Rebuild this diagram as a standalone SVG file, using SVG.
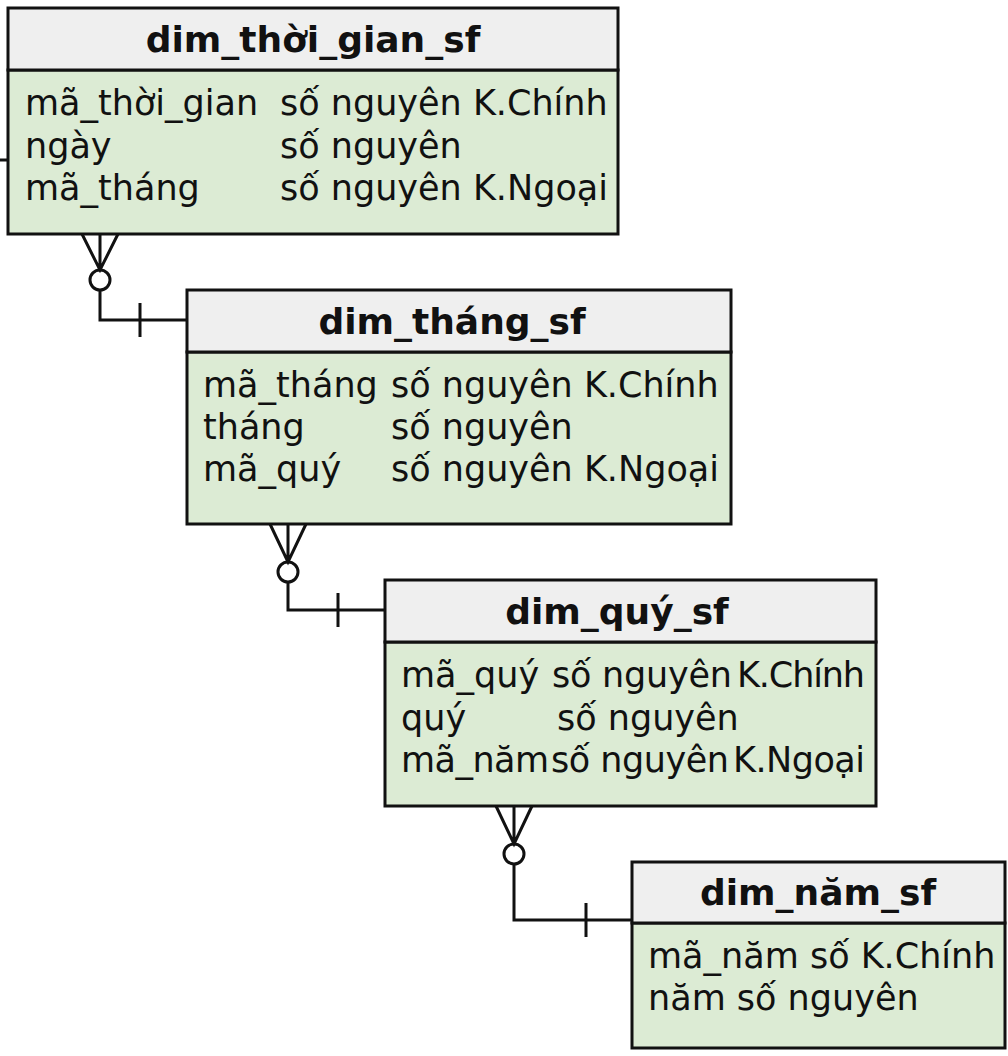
<svg xmlns="http://www.w3.org/2000/svg" width="1008" height="1056" viewBox="0 0 1008 1056">
<style>
.hd{fill:#efefef;stroke:#111;stroke-width:3}
.bd{fill:#dcebd4;stroke:#111;stroke-width:3}
.t{font-family:"DejaVu Sans",sans-serif;font-size:35px;fill:#111}
.h{font-family:"DejaVu Sans",sans-serif;font-size:36px;font-weight:bold;fill:#111;text-anchor:middle}
.c{fill:none;stroke:#111;stroke-width:3}
</style>
<rect width="1008" height="1056" fill="#fff"/>
<g id="dim_thoi_gian_sf">
<rect class="bd" x="8" y="70" width="610" height="164"/>
<rect class="hd" x="8" y="8" width="610" height="62"/>
<text class="h" x="313" y="52">dim_thời_gian_sf</text>
<text class="t" x="25" y="115">mã_thời_gian</text><text class="t" x="280" y="115">số nguyên K.Chính</text>
<text class="t" x="25" y="158">ngày</text><text class="t" x="280" y="158">số nguyên</text>
<text class="t" x="25" y="200">mã_tháng</text><text class="t" x="280" y="200">số nguyên K.Ngoại</text>
</g>
<g id="dim_thang_sf">
<rect class="bd" x="187" y="352" width="544" height="172"/>
<rect class="hd" x="187" y="290" width="544" height="62"/>
<text class="h" x="452" y="334">dim_tháng_sf</text>
<text class="t" x="203" y="397">mã_tháng</text><text class="t" x="391" y="397">số nguyên K.Chính</text>
<text class="t" x="203" y="439">tháng</text><text class="t" x="391" y="439">số nguyên</text>
<text class="t" x="203" y="481">mã_quý</text><text class="t" x="391" y="481">số nguyên K.Ngoại</text>
</g>
<g id="dim_quy_sf">
<rect class="bd" x="385" y="642" width="491" height="164"/>
<rect class="hd" x="385" y="580" width="491" height="62"/>
<text class="h" x="617" y="624">dim_quý_sf</text>
<text class="t" x="401" y="687">mã_quý</text><text class="t" x="552" y="687" textLength="180">số nguyên</text><text class="t" x="737" y="687" textLength="128">K.Chính</text>
<text class="t" x="401" y="730">quý</text><text class="t" x="557" y="730">số nguyên</text>
<text class="t" x="401" y="772" textLength="148">mã_năm</text><text class="t" x="551" y="772" textLength="178">số nguyên</text><text class="t" x="733" y="772" textLength="132">K.Ngoại</text>
</g>
<g id="dim_nam_sf">
<rect class="bd" x="632" y="923" width="373" height="125"/>
<rect class="hd" x="632" y="862" width="373" height="61"/>
<text class="h" x="818" y="905">dim_năm_sf</text>
<text class="t" x="648" y="968">mã_năm số K.Chính</text>
<text class="t" x="648" y="1010">năm số nguyên</text>
</g>
<g id="connectors">
<path class="c" d="M0 160H8"/>
<path class="c" d="M82 234L100 270L118 234M100 234V270M100 290V320H187M140 303V337"/>
<circle class="c" cx="100" cy="280" r="10"/>
<path class="c" d="M270 524L288 562L306 524M288 524V562M288 582V610H385M338 593V627"/>
<circle class="c" cx="288" cy="572" r="10"/>
<path class="c" d="M496 806L514 844L532 806M514 806V844M514 864V920H632M586 903V937"/>
<circle class="c" cx="514" cy="854" r="10"/>
</g>
</svg>
